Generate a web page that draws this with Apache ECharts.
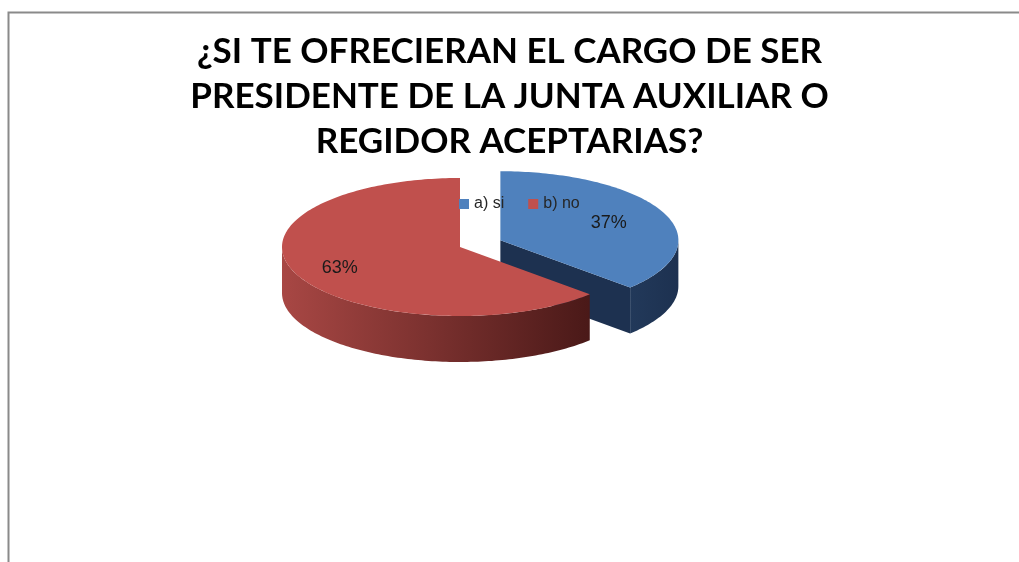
<!DOCTYPE html>
<html>
<head>
<meta charset="utf-8">
<script src="https://cdn.jsdelivr.net/npm/echarts@6/dist/echarts.min.js"></script>
<style>
  html, body { margin: 0; padding: 0; background: #ffffff; }
  #chart { width: 1019px; height: 562px; }
</style>
</head>
<body>
<div id="chart"></div>
<script>
// Survey answers
const titleLines = [
  '¿SI TE OFRECIERAN EL CARGO DE SER',
  'PRESIDENTE DE LA JUNTA AUXILIAR O',
  'REGIDOR ACEPTARIAS?'
];
const categories = ['a) si', 'b) no'];
const values = [37, 63];

// Palette: top face, side (light → dark)
const topColors = ['#4F81BD', '#C0504D'];
const sideColors = [['#22395A', '#1D3150'], ['#A84744', '#4A1918']];
const explodeBy = [44, 0];

// Projected pie geometry
const PIE = { cx: 460, cy: 247, rx: 178, ry: 69, depth: 46 };

const total = values.reduce((a, b) => a + b, 0);
const TWO_PI = Math.PI * 2;

function sliceAngles(i) {
  let before = 0;
  for (let k = 0; k < i; k++) before += values[k];
  const a0 = before / total * TWO_PI;
  const a1 = (before + values[i]) / total * TWO_PI;
  return [a0, a1];
}

function makeRenderer(i) {
  return function (params, api) {
    const [a0, a1] = sliceAngles(i);
    const mid = (a0 + a1) / 2;
    const cx = PIE.cx + explodeBy[i] * Math.sin(mid);
    const cy = PIE.cy - explodeBy[i] * Math.cos(mid) * PIE.ry / PIE.rx;
    const pt = (t, dz) => [cx + PIE.rx * Math.sin(t), cy - PIE.ry * Math.cos(t) + dz];
    const arc = (from, to, dz) => {
      const pts = [];
      const n = Math.max(2, Math.ceil(Math.abs(to - from) / 0.02));
      for (let k = 0; k <= n; k++) pts.push(pt(from + (to - from) * k / n, dz));
      return pts;
    };
    const children = [];
    const D = PIE.depth;

    // Cut faces that turn toward the viewer
    const faces = [];
    if (Math.sin(a1) > 1e-6) faces.push(a1);
    if (Math.sin(a0) < -1e-6) faces.push(a0);
    faces.forEach(t => {
      const r = pt(t, 0);
      children.push({
        type: 'polygon', z2: 10,
        shape: { points: [[cx, cy], r, [r[0], r[1] + D], [cx, cy + D]] },
        style: { fill: sideColors[i][1] }
      });
    });

    // Front rim wall
    const s = Math.max(a0, Math.PI / 2);
    const e = Math.min(a1, Math.PI * 1.5);
    if (e > s) {
      const pts = arc(s, e, 0).concat(arc(e, s, D));
      children.push({
        type: 'polygon', z2: 20,
        shape: { points: pts },
        style: {
          fill: new echarts.graphic.LinearGradient(0, 0, 1, 0, [
            { offset: 0, color: sideColors[i][0] },
            { offset: 1, color: sideColors[i][1] }
          ])
        }
      });
    }

    // Top face
    children.push({
      type: 'polygon', z2: 30,
      shape: { points: [[cx, cy]].concat(arc(a0, a1, 0)) },
      style: { fill: topColors[i] }
    });

    // Percentage label
    const lf = 0.7;
    children.push({
      type: 'text', z2: 40,
      x: cx + PIE.rx * lf * Math.sin(mid) - 6,
      y: cy - PIE.ry * lf * Math.cos(mid) + 2,
      style: {
        text: Math.round(values[i] / total * 100) + '%',
        fill: '#1a1a1a',
        font: '18px "Liberation Sans", Arial, sans-serif',
        align: 'center',
        verticalAlign: 'middle'
      }
    });

    return { type: 'group', children: children };
  };
}

const chart = echarts.init(document.getElementById('chart'), null, { renderer: 'canvas' });

chart.setOption({
  animation: false,
  backgroundColor: '#ffffff',
  title: {
    text: titleLines.join('\n'),
    left: 'center',
    top: 29,
    padding: [0, 0, 0, 18],
    textStyle: {
      fontFamily: 'Lato, "Open Sans", sans-serif',
      fontWeight: 'bold',
      fontSize: 35,
      lineHeight: 45,
      color: '#000000'
    }
  },
  legend: {
    data: categories,
    left: 454,
    top: 191,
    icon: 'rect',
    itemWidth: 10,
    itemHeight: 10,
    itemGap: 24,
    textStyle: {
      fontFamily: '"Liberation Sans", Arial, sans-serif',
      fontSize: 16,
      color: '#262626'
    }
  },
  graphic: [{
    type: 'rect',
    shape: { x: 8.5, y: 12.5, width: 1100, height: 700 },
    style: { fill: 'none', stroke: '#8a8a8a', lineWidth: 2 },
    silent: true
  }],
  series: categories.map((name, i) => ({
    type: 'custom',
    name: name,
    coordinateSystem: 'none',
    itemStyle: { color: topColors[i] },
    data: [values[i]],
    renderItem: makeRenderer(i)
  }))
});
</script>
</body>
</html>
